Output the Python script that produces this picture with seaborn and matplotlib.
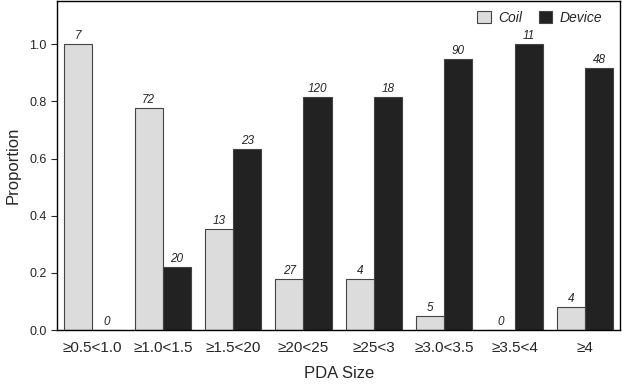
import matplotlib
matplotlib.use("Agg")
import matplotlib.pyplot as plt
import seaborn as sns
import pandas as pd

# Datos
categorias = ["≥0.5<1.0", "≥1.0<1.5", "≥1.5<20", "≥20<25", "≥25<3", "≥3.0<3.5", "≥3.5<4", "≥4"]
prop_coil = [1.0, 0.775, 0.355, 0.18, 0.18, 0.05, 0.0, 0.08]
prop_device = [0.0, 0.22, 0.633, 0.815, 0.815, 0.947, 1.0, 0.915]
n_coil = [7, 72, 13, 27, 4, 5, 0, 4]
n_device = [0, 20, 23, 120, 18, 90, 11, 48]

df = pd.DataFrame({
    "PDA": categorias * 2,
    "Proporcion": prop_coil + prop_device,
    "Tipo": ["Coil"] * len(categorias) + ["Device"] * len(categorias),
})

sns.set_style("ticks")
plt.rcParams['font.family'] = ['Liberation Sans', 'DejaVu Sans']

fig = plt.figure(figsize=(6.22, 3.88), dpi=100)
ax = fig.add_axes([0.092, 0.149, 0.905, 0.848])

cores = {"Coil": "#dcdcdc", "Device": "#222222"}
sns.barplot(data=df, x="PDA", y="Proporcion", hue="Tipo", palette=cores,
            width=0.8, edgecolor="#444444", linewidth=0.8, saturation=1, ax=ax)

# Rótulos com o número de casos
for cont, ns in zip(ax.containers, [n_coil, n_device]):
    ax.bar_label(cont, labels=[str(n) for n in ns], fontsize=8.5,
                 fontstyle='italic', padding=1.5)

ax.set_ylim(0, 1.15)
ax.set_xlim(-0.5, len(categorias) - 0.5)
ax.set_yticks([0.0, 0.2, 0.4, 0.6, 0.8, 1.0])
ax.set_yticklabels([f"{v:.1f}" for v in [0.0, 0.2, 0.4, 0.6, 0.8, 1.0]], fontsize=9)
ax.tick_params(axis='x', length=0, labelsize=11, pad=8)
ax.tick_params(axis='y', length=4, width=0.8, direction='out')
ax.set_xlabel("PDA Size", fontsize=12, labelpad=8)
ax.set_ylabel("Proportion", fontsize=12, labelpad=6)

for s in ax.spines.values():
    s.set_linewidth(1.0)
    s.set_color("black")

ax.legend(loc='upper right', ncol=2, frameon=False, prop={'style': 'italic', 'size': 10},
          handlelength=1.0, handleheight=1.0, columnspacing=1.2, handletextpad=0.5,
          borderaxespad=0.3, bbox_to_anchor=(0.985, 1.0))

fig.savefig("out.png", dpi=100)
